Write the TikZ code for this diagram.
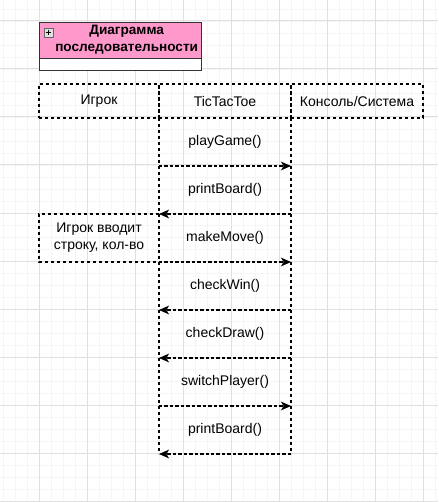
\documentclass[tikz,border=0pt]{standalone}
\usepackage{fontspec}
\setmainfont{Liberation Sans}
\usetikzlibrary{positioning, arrows.meta}

\begin{document}
\begin{tikzpicture}[
        x=0.75pt, y=-0.75pt,
        node distance=0pt,
        gridminor/.style={draw=black!4, line width=0.6pt},
        gridmajor/.style={draw=black!12, line width=0.75pt},
        dashline/.style={line width=0.8pt, dash pattern=on 2.25pt off 2.25pt},
        headbox/.style={
            rectangle,
            draw,
            dashline,
            minimum height=25.5pt,
            inner sep=0pt,
            outer sep=0pt,
            font=\fontsize{10.5}{12.75}\selectfont
        },
        msgbox/.style={
            rectangle,
            minimum width=99pt,
            minimum height=36pt,
            inner sep=0pt,
            outer sep=0pt,
            font=\fontsize{10.5}{12.75}\selectfont
        },
        notebox/.style={headbox, draw=none, minimum width=90pt, minimum height=36pt, align=center},
        msgarrow/.style={-{Stealth[length=7.5pt, width=6.5pt, inset=2pt]}, line width=1.1pt, dash pattern=on 2.6pt off 1.5pt}
    ]
    \useasboundingbox (0,0) rectangle (438,502);

    % --- Grid ---
    \foreach \gx in {3,15,...,435} \draw[gridminor] (\gx,0) -- (\gx,502);
    \foreach \gy in {9,21,...,501} \draw[gridminor] (0,\gy) -- (438,\gy);
    \foreach \gx in {39,87,...,423} \draw[gridmajor] (\gx,0) -- (\gx,502);
    \foreach \gy in {21,69,...,501} \draw[gridmajor] (0,\gy) -- (438,\gy);

    % --- Title ---
    \node[rectangle, draw=black!80, fill={rgb,255:red,255;green,153;blue,204}, minimum width=121.5pt, minimum height=27pt,
          inner sep=0pt, outer sep=0pt, anchor=north west] (title) at (39,22) {};
    \node[rectangle, draw=black!80, fill=white, minimum width=121.5pt, minimum height=9pt,
          inner sep=0pt, outer sep=0pt, below=of title] (titlefoot) {};
    \node[align=center, font=\fontsize{10.2}{12.75}\selectfont\bfseries] (titletext)
        at ([xshift=5pt]title.center) {Диаграмма\\последовательности};
    \node[rectangle, draw=black!60, fill=black!12, minimum size=6.5pt, inner sep=0pt] (plus) at (48.5,32.5) {};
    \draw[line width=0.6pt] ([xshift=1.3pt]plus.west) -- ([xshift=-1.3pt]plus.east);
    \draw[line width=0.6pt] ([yshift=-1.3pt]plus.north) -- ([yshift=1.3pt]plus.south);

    % --- Participants ---
    \node[headbox, minimum width=90pt, anchor=north west] (player) at (39,84) {Игрок};
    \node[headbox, minimum width=99pt, right=of player] (game) {TicTacToe};
    \node[headbox, minimum width=99pt, right=of game] (console) {Консоль/Система};

    % --- Messages ---
    \node[msgbox, below=of game] (play) {playGame()};
    \node[msgbox, below=of play] (print) {printBoard()};
    \node[msgbox, below=of print] (move) {makeMove()};
    \node[msgbox, below=of move] (win) {checkWin()};
    \node[msgbox, below=of win] (tie) {checkDraw()};
    \node[msgbox, below=of tie] (switch) {switchPlayer()};
    \node[msgbox, below=of switch] (reprint) {printBoard()};

    \node[notebox, left=of move] (input) {Игрок вводит\\строку, кол-во};
    % right side of the note lies on the lifeline
    \draw[dashline] (input.north east) -- (input.north west) -- (input.south west) -- (input.south east);

    % --- Lifelines ---
    \draw[dashline] (game.south west) -- (reprint.south west);
    \draw[dashline] (console.south west) -- (reprint.south east);

    % --- Arrows ---
    \draw[msgarrow] (play.south west) -- (play.south east);
    \draw[msgarrow] (print.south east) -- (print.south west);
    \draw[msgarrow] (move.south west) -- (move.south east);
    \draw[msgarrow] (win.south east) -- (win.south west);
    \draw[msgarrow] (tie.south east) -- (tie.south west);
    \draw[msgarrow] (switch.south west) -- (switch.south east);
    \draw[msgarrow] (reprint.south east) -- (reprint.south west);

\end{tikzpicture}
\end{document}
